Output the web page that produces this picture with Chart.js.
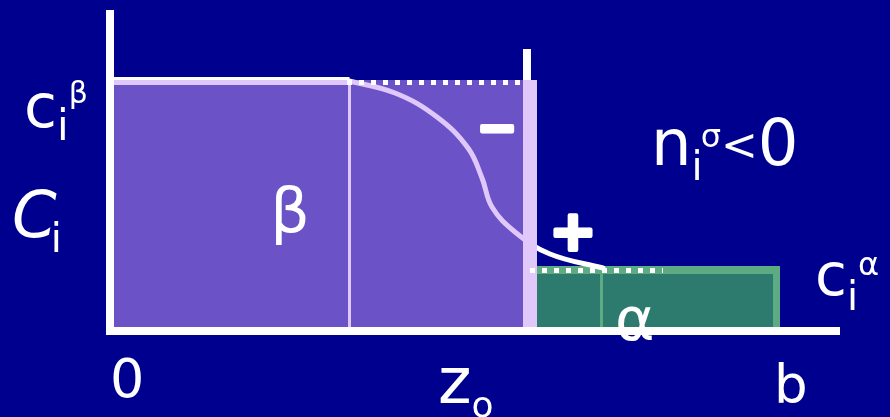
<!DOCTYPE html>
<html>
<head>
<meta charset="utf-8">
<script src="https://cdn.jsdelivr.net/npm/chart.js@4.4.1/dist/chart.umd.min.js"></script>
<style>
  html, body { margin: 0; padding: 0; background: #00008f; }
  canvas { display: block; }
</style>
</head>
<body>
<canvas id="perfil" width="890" height="417"></canvas>
<script>
// ---------------------------------------------------------------
// concentration profile c_i(z) across a two-phase interface
// x = position z, y = concentration
// ---------------------------------------------------------------

const X_MAX = 73
const Y_MAX = 32.1

// bulk phases (step model)
const betaSpan  = [0, 42.7]     // β from 0 to just past z0
const betaLevel = 25.1
const alphaSpan = [42.0, 67.0]  // α up to b
const alphaLevel = 6.5

// real (smooth) profile
const profileZ = [23.5, 28.5, 32.7, 35.8, 37.2, 38.2, 40.5, 44.0, 49.3]
const profileC = [25.1, 23.8, 21.4, 18.3, 15.3, 12.4, 9.9, 7.7, 6.3]

// guide lines
const z0Line       = 41.7
const z0Strip      = 42.0
const betaDivider  = 23.95
const alphaDivider = 49.15
const alphaRight   = 66.65
const betaDotsX    = [23.7, 41.0]
const alphaDotsX   = [42.0, 55.3]

const NAVY   = '#00008f'
const WHITE  = '#ffffff'
const PURPLE = 'rgba(197,153,247,0.54)'
const GREEN  = 'rgba(54,151,102,0.81)'
const FONT   = '"DejaVu Sans", sans-serif'

// text labels: anchor in data units, parts drawn one after another
const textLabels = [
  { x: -8.6, y: 20.4, parts: [{ t: 'c', s: 60 }, { t: 'i', s: 42, dy: 13 }, { t: 'β', s: 30, dy: -24 }] },
  { x: -9.8, y: 9.4,  parts: [{ t: 'C', s: 64, st: 'italic ' }, { t: 'i', s: 40, dy: 15, dx: -6 }] },
  { x: 18.0, y: 9.9,  align: 'center', parts: [{ t: 'β', s: 62 }] },
  { x: 38.7, y: 19.9, align: 'center', base: 'middle', bold: 4, parts: [{ t: '−', s: 48, st: 'bold ' }] },
  { x: 46.3, y: 9.6,  align: 'center', base: 'middle', bold: 4, parts: [{ t: '+', s: 56, st: 'bold ' }] },
  { x: 54.1, y: 16.6, parts: [{ t: 'n', s: 64 }, { t: 'i', s: 40, dy: 15 }, { t: 'σ', s: 32, dy: -18, dx: -2 }, { t: '<', s: 44, dy: -5 }, { t: '0', s: 64 }] },
  { x: 70.5, y: 3.6,  parts: [{ t: 'c', s: 58 }, { t: 'i', s: 40, dy: 15 }, { t: 'α', s: 32, dy: -20 }] },
  { x: 50.5, y: -0.9, parts: [{ t: 'α', s: 60 }] },
  { x: 0,    y: -6.6, parts: [{ t: '0', s: 54 }] },
  { x: 32.8, y: -7.2, parts: [{ t: 'z', s: 64 }, { t: 'o', s: 36, dy: 14 }] },
  { x: 66.4, y: -7.2, parts: [{ t: 'b', s: 53 }] }
]

const pts = (xs, ys) => xs.map((x, i) => ({ x, y: ys[i] }))
const hSeg = (x0, x1, y) => [{ x: x0, y }, { x: x1, y }]
const vSeg = (x, y0, y1) => [{ x, y: y0 }, { x, y: y1 }]

function linea(data, width, order, extra = {}) {
  return {
    data, order,
    borderColor: WHITE,
    borderWidth: width,
    borderCapStyle: 'butt',
    pointRadius: 0,
    fill: false,
    clip: false,
    ...extra
  }
}

function caja(span, level, color, order) {
  return {
    data: hSeg(span[0], span[1], level),
    order,
    borderWidth: 0,
    pointRadius: 0,
    backgroundColor: color,
    fill: { value: 0 },
    clip: false
  }
}

const datasets = [
  // α outlines under the green fill
  linea(hSeg(alphaSpan[0], alphaSpan[1], 6.1), 8, 9),
  linea(vSeg(alphaRight, 0, 6.1), 7, 9),
  linea(vSeg(alphaDivider, 0, 6.1), 3, 9),
  caja(alphaSpan, alphaLevel, GREEN, 8),

  // lines under the β fill
  linea(hSeg(0.4, betaDivider, 25.0), 8, 7),
  linea(vSeg(betaDivider, 0, 25.0), 3, 7),
  linea(vSeg(z0Strip, -0.4, betaLevel), 14, 7),
  linea(pts(profileZ, profileC), 5, 7, { borderCapStyle: 'round', tension: 0.4 }),
  caja(betaSpan, betaLevel, PURPLE, 6),

  // z0 marker above the fill
  linea(vSeg(z0Line, betaLevel, 28.2), 8, 5),

  // step levels, dotted
  linea(hSeg(betaDotsX[0], betaDotsX[1], 24.85), 5, 4, { borderDash: [5, 7] }),
  linea(hSeg(alphaDotsX[0], alphaDotsX[1], 6.05), 5, 4, { borderDash: [5, 7] }),

  // axes
  linea(vSeg(0, 0, Y_MAX), 8, 3),
  linea(hSeg(-0.4, X_MAX, 0), 8, 3)
]

const fondo = {
  id: 'fondo',
  beforeDraw(chart) {
    const { ctx, width, height } = chart
    ctx.save()
    ctx.fillStyle = NAVY
    ctx.fillRect(0, 0, width, height)
    ctx.restore()
  }
}

const textos = {
  id: 'textos',
  afterDraw(chart) {
    const { ctx, scales: { x, y } } = chart
    ctx.save()
    ctx.fillStyle = WHITE
    ctx.strokeStyle = WHITE
    ctx.lineJoin = 'round'
    textLabels.forEach(l => {
      let cx = x.getPixelForValue(l.x)
      const cy = y.getPixelForValue(l.y)
      ctx.textAlign = l.align || 'left'
      ctx.textBaseline = l.base || 'alphabetic'
      l.parts.forEach(p => {
        ctx.font = `${p.st || ''}${p.s}px ${FONT}`
        cx += p.dx || 0
        ctx.fillText(p.t, cx, cy + (p.dy || 0))
        if (l.bold) {
          ctx.lineWidth = l.bold
          ctx.strokeText(p.t, cx, cy + (p.dy || 0))
        }
        cx += ctx.measureText(p.t).width
      })
    })
    ctx.restore()
  }
}

new Chart(document.getElementById('perfil').getContext('2d'), {
  type: 'line',
  data: { datasets },
  options: {
    responsive: false,
    animation: false,
    events: [],
    layout: { padding: { left: 110, right: 50, top: 10, bottom: 86 } },
    plugins: { legend: { display: false }, tooltip: { enabled: false } },
    scales: {
      x: { type: 'linear', min: 0, max: X_MAX, display: false },
      y: { type: 'linear', min: 0, max: Y_MAX, display: false }
    }
  },
  plugins: [fondo, textos]
})
</script>
</body>
</html>
